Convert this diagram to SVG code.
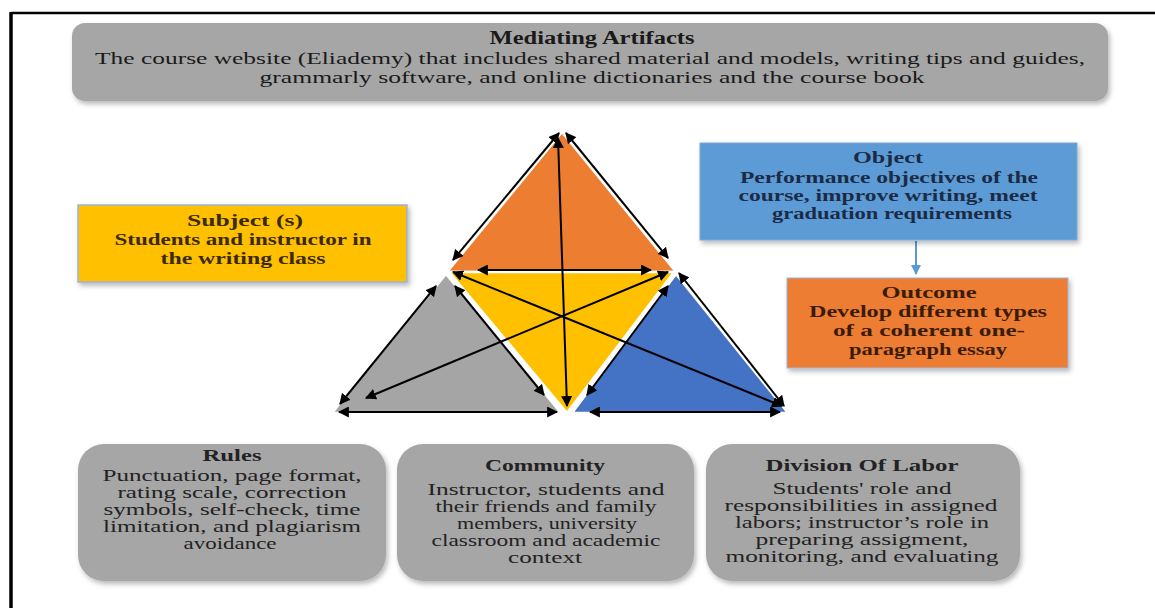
<svg xmlns="http://www.w3.org/2000/svg" width="1155" height="608" viewBox="0 0 1155 608">
<defs>
<filter id="sh" x="-10%" y="-10%" width="120%" height="130%">
<feDropShadow dx="2" dy="3" stdDeviation="2.5" flood-color="#000" flood-opacity="0.28"/>
</filter>
<marker id="ah" viewBox="0 0 10 10" refX="9" refY="5" markerWidth="11" markerHeight="11" markerUnits="userSpaceOnUse" orient="auto-start-reverse">
<path d="M0,0 L10,5 L0,10 z" fill="#000"/>
</marker>
<marker id="bh" viewBox="0 0 10 10" refX="9" refY="5" markerWidth="10" markerHeight="10" markerUnits="userSpaceOnUse" orient="auto">
<path d="M0,0 L10,5 L0,10 z" fill="#5B9BD5"/>
</marker>
</defs>
<style>
text{font-family:"Liberation Serif","Times New Roman",serif;text-anchor:middle;}
.t{font-size:18px;font-weight:bold;}
.b{font-size:17px;}
.bb{font-size:16px;font-weight:bold;}
.gbox{fill:#A6A6A6;}
.tri{stroke:#fff;stroke-width:2.5;stroke-linejoin:miter;}
.con line{stroke:#000;stroke-width:2;marker-start:url(#ah);marker-end:url(#ah);}
</style>
<rect x="0" y="0" width="1155" height="608" fill="#fff"/>
<g id="frame">
<line x1="11" y1="13" x2="1155" y2="13" stroke="#000" stroke-width="2.5"/>
<line x1="11" y1="12" x2="11" y2="608" stroke="#000" stroke-width="3.5"/>
</g>

<g id="mediating">
<rect class="gbox" x="72" y="23" width="1036" height="78" rx="13" filter="url(#sh)"/>
<text class="t" x="592" y="44" fill="#1a1a1a" textLength="205" lengthAdjust="spacingAndGlyphs">Mediating Artifacts</text>
<text class="b" x="590" y="64" fill="#1a1a1a" textLength="990" lengthAdjust="spacingAndGlyphs">The course website (Eliademy) that includes shared material and models, writing tips and guides,</text>
<text class="b" x="592" y="83" fill="#1a1a1a" textLength="665" lengthAdjust="spacingAndGlyphs">grammarly software, and online dictionaries and the course book</text>
</g>

<g id="triangle">
<polygon class="tri" points="562,132 447,272 676,272" fill="#ED7D31"/>
<polygon class="tri" points="449,272 674,272 567,413" fill="#FFC000"/>
<polygon class="tri" points="446,274 332,413 561,413" fill="#A5A5A5"/>
<polygon class="tri" points="676,274 572,413 788,413" fill="#4472C4"/>
</g>

<g id="connectors" class="con">
<line x1="559" y1="133" x2="453" y2="260"/>
<line x1="566" y1="133" x2="668" y2="258"/>
<line x1="478" y1="270" x2="651" y2="270"/>
<line x1="558" y1="138" x2="567" y2="406"/>
<line x1="453" y1="272" x2="782" y2="406"/>
<line x1="668" y1="272" x2="366" y2="398"/>
<line x1="436" y1="286" x2="340" y2="404"/>
<line x1="455" y1="286" x2="544" y2="395"/>
<line x1="339" y1="412" x2="557" y2="412"/>
<line x1="668" y1="286" x2="587" y2="395"/>
<line x1="679" y1="273" x2="784" y2="406"/>
<line x1="590" y1="412" x2="780" y2="412"/>
<line x1="916" y1="241" x2="916" y2="274" style="stroke:#5B9BD5;stroke-width:2;marker-start:none;marker-end:url(#bh)"/>
</g>

<g id="subject">
<rect x="78" y="205" width="329" height="77" fill="#FFC000" stroke="#9DB3D9" stroke-width="1.5" filter="url(#sh)"/>
<text class="bb" x="245" y="226" fill="#3a2a00" textLength="116" lengthAdjust="spacingAndGlyphs">Subject (s)</text>
<text class="bb" x="243" y="245" fill="#3a2a00" textLength="257" lengthAdjust="spacingAndGlyphs">Students and instructor in</text>
<text class="bb" x="243" y="264" fill="#3a2a00" textLength="165" lengthAdjust="spacingAndGlyphs">the writing class</text>
</g>

<g id="object">
<rect x="700" y="143" width="377" height="97" fill="#5B9BD5" stroke="#7EA6D8" stroke-width="1" filter="url(#sh)"/>
<text class="bb" x="888" y="163" fill="#1c2b45" textLength="70" lengthAdjust="spacingAndGlyphs">Object</text>
<text class="bb" x="889" y="183" fill="#1c2b45" textLength="298" lengthAdjust="spacingAndGlyphs">Performance objectives of the</text>
<text class="bb" x="888" y="201" fill="#1c2b45" textLength="299" lengthAdjust="spacingAndGlyphs">course, improve writing, meet</text>
<text class="bb" x="892" y="219" fill="#1c2b45" textLength="240" lengthAdjust="spacingAndGlyphs">graduation requirements</text>
</g>

<g id="outcome">
<rect x="787" y="278" width="281" height="90" fill="#ED7D31" stroke="#9DB3D9" stroke-width="1" filter="url(#sh)"/>
<text class="bb" x="929" y="298" fill="#3a1c06" textLength="95" lengthAdjust="spacingAndGlyphs">Outcome</text>
<text class="bb" x="928" y="317" fill="#3a1c06" textLength="238" lengthAdjust="spacingAndGlyphs">Develop different types</text>
<text class="bb" x="929" y="336" fill="#3a1c06" textLength="192" lengthAdjust="spacingAndGlyphs">of a coherent one-</text>
<text class="bb" x="928" y="355" fill="#3a1c06" textLength="158" lengthAdjust="spacingAndGlyphs">paragraph essay</text>
</g>

<g id="rules">
<rect class="gbox" x="78" y="444" width="308" height="137" rx="26" filter="url(#sh)"/>
<text class="bb" x="232" y="461" fill="#222" textLength="59" lengthAdjust="spacingAndGlyphs">Rules</text>
<text class="b" x="232" y="481" fill="#222" textLength="259" lengthAdjust="spacingAndGlyphs">Punctuation, page format,</text>
<text class="b" x="232" y="498" fill="#222" textLength="229" lengthAdjust="spacingAndGlyphs">rating scale, correction</text>
<text class="b" x="232" y="515" fill="#222" textLength="257" lengthAdjust="spacingAndGlyphs">symbols, self-check, time</text>
<text class="b" x="232" y="532" fill="#222" textLength="258" lengthAdjust="spacingAndGlyphs">limitation, and plagiarism</text>
<text class="b" x="230" y="549" fill="#222" textLength="93" lengthAdjust="spacingAndGlyphs">avoidance</text>
</g>

<g id="community">
<rect class="gbox" x="397" y="444" width="297" height="137" rx="26" filter="url(#sh)"/>
<text class="bb" x="545" y="471" fill="#222" textLength="120" lengthAdjust="spacingAndGlyphs">Community</text>
<text class="b" x="546" y="495" fill="#222" textLength="237" lengthAdjust="spacingAndGlyphs">Instructor, students and</text>
<text class="b" x="546" y="512" fill="#222" textLength="221" lengthAdjust="spacingAndGlyphs">their friends and family</text>
<text class="b" x="547" y="529" fill="#222" textLength="180" lengthAdjust="spacingAndGlyphs">members, university</text>
<text class="b" x="546" y="546" fill="#222" textLength="229" lengthAdjust="spacingAndGlyphs">classroom and academic</text>
<text class="b" x="545" y="563" fill="#222" textLength="74" lengthAdjust="spacingAndGlyphs">context</text>
</g>

<g id="division">
<rect class="gbox" x="706" y="444" width="314" height="137" rx="26" filter="url(#sh)"/>
<text class="bb" x="862" y="471" fill="#222" textLength="193" lengthAdjust="spacingAndGlyphs">Division Of Labor</text>
<text class="b" x="862" y="494" fill="#222" textLength="179" lengthAdjust="spacingAndGlyphs">Students' role and</text>
<text class="b" x="861" y="511" fill="#222" textLength="273" lengthAdjust="spacingAndGlyphs">responsibilities in assigned</text>
<text class="b" x="862" y="528" fill="#222" textLength="254" lengthAdjust="spacingAndGlyphs">labors; instructor’s role in</text>
<text class="b" x="862" y="545" fill="#222" textLength="213" lengthAdjust="spacingAndGlyphs">preparing assigment,</text>
<text class="b" x="862" y="562" fill="#222" textLength="273" lengthAdjust="spacingAndGlyphs">monitoring, and evaluating</text>
</g>
</svg>
